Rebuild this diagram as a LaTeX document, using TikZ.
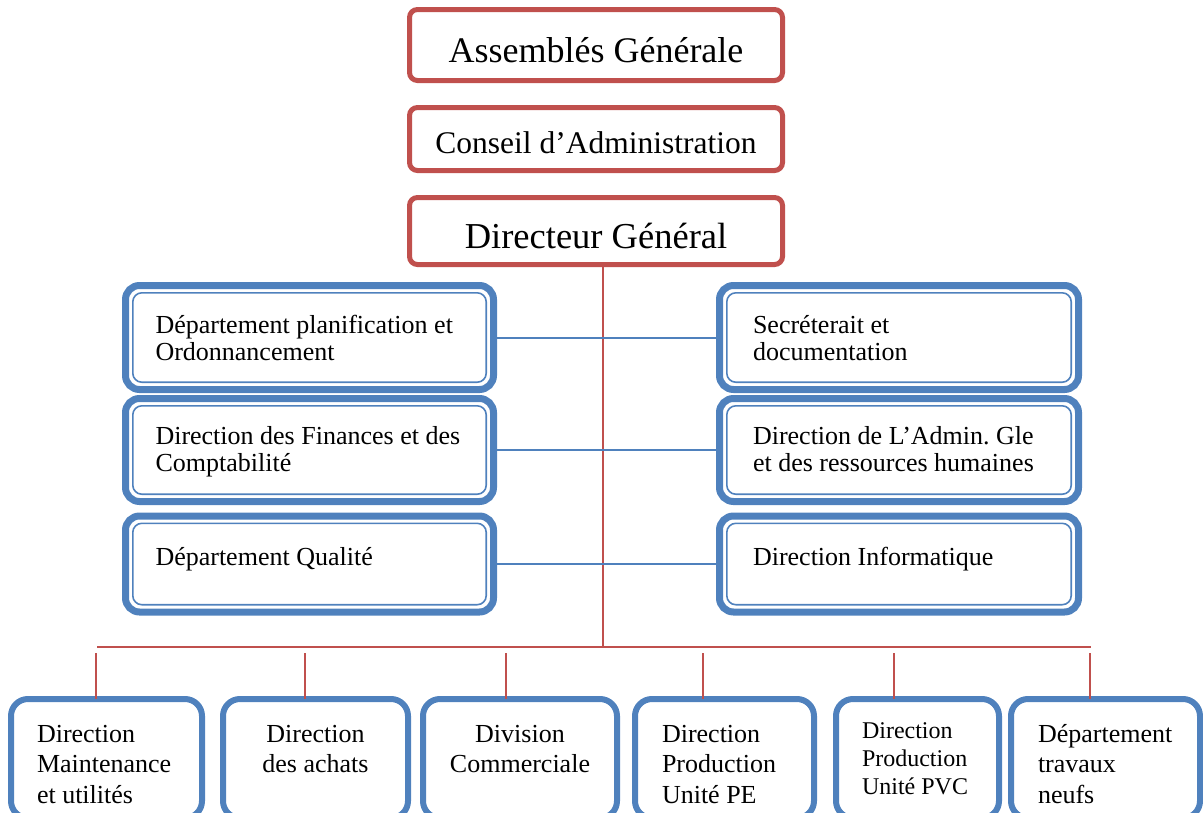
\documentclass[tikz,border=0pt]{standalone}
\usepackage{fontspec}
\setmainfont{Liberation Serif}
\definecolor{orgblue}{HTML}{4F81BD}
\definecolor{orgred}{HTML}{C0504D}
\tikzset{
	redbox/.style={draw=orgred, line width=5pt, rounded corners=8pt, minimum width=373pt, inner ysep=0pt, outer sep=0pt, anchor=north},
	unitbox/.style={draw=orgblue, line width=7pt, rounded corners=14pt, inner ysep=0pt, outer sep=0pt, align=flush left, anchor=north west, font=\fontsize{26}{27}\selectfont},
	leftcol/.style={unitbox, inner xsep=30pt, text width=308pt},
	rightcol/.style={unitbox, inner xsep=33.5pt, text width=292pt},
	basebox/.style={draw=orgblue, line width=6pt, rounded corners=17pt, inner ysep=0pt, outer sep=0pt, text height=43pt, text depth=76pt, anchor=north west, align=flush left, font=\fontsize{26}{30.5}\selectfont},
	redline/.style={draw=orgred, line width=2.5pt},
	blueline/.style={draw=orgblue, line width=2pt}
}
\begin{document}
\begin{tikzpicture}[x=1pt, y=-1pt]
			\useasboundingbox (0, 0) rectangle (1203, 812);
			\node[redbox, text height=52.5pt, text depth=18.5pt, font=\fontsize{36}{40}\selectfont] (ag) at (596, 9.5) {Assemblés Générale};
			\node[redbox, text height=45.5pt, text depth=17.5pt, font=\fontsize{31.5}{35}\selectfont] (ca) at (596, 107.5) {Conseil d’Administration};
			\node[redbox, text height=50.5pt, text depth=16.5pt, font=\fontsize{36.5}{40}\selectfont] (dg) at (596, 197.5) {Directeur Général};
			% staff units
			\node[leftcol, text height=47.5pt, text depth=56.5pt] (l1) at (125.5, 285.5) {Département~planification~et\\Ordonnancement};
			\node[leftcol, text height=45.5pt, text depth=57.5pt] (l2) at (125.5, 398.5) {Direction~des~Finances~et~des\\Comptabilité};
			\node[leftcol, text height=49pt, text depth=47pt] (l3) at (125.5, 516) {Département~Qualité};
			\node[rightcol, text height=47.5pt, text depth=56.5pt] (r1) at (719.5, 285.5) {Secréterait~et\\documentation};
			\node[rightcol, text height=45.5pt, text depth=57.5pt] (r2) at (719.5, 398.5) {Direction~de~L’Admin.~Gle\\et~des~ressources~humaines};
			\node[rightcol, text height=49pt, text depth=47pt] (r3) at (719.5, 516) {Direction~Informatique};
			\foreach \n in {l1, l2, l3, r1, r2, r3}
				\draw[orgblue, line width=1.6pt, rounded corners=9pt] ([shift={(7.3pt, -7.3pt)}]\n.north west) rectangle ([shift={(-7.3pt, 7.3pt)}]\n.south east);
			% operating units
			\node[basebox, inner xsep=26pt, text width=139pt] (m1) at (11, 699) {Direction\\Maintenance\\et~utilités};
			\node[basebox, inner xsep=10pt, text width=165pt, align=flush center] (m2) at (223, 699) {Direction\\des~achats};
			\node[basebox, inner xsep=10pt, text width=174pt, align=flush center] (m3) at (423, 699) {Division\\Commerciale};
			\node[basebox, inner xsep=27pt, text width=125pt] (m4) at (635, 699) {Direction\\Production\\Unité~PE};
			\node[basebox, inner xsep=26pt, text width=111pt, text height=39pt, text depth=80pt, font=\fontsize{24}{28}\selectfont] (m5) at (836, 699) {Direction\\Production\\Unité~PVC};
			\node[basebox, inner xsep=27pt, text width=135pt] (m6) at (1011, 699) {Département\\travaux\\neufs};
			\coordinate (trunk) at (603, 647);
			\coordinate (busL) at (97, 647);
			\coordinate (busR) at (1091, 647);
			\coordinate (d1) at (96, 653);
			\coordinate (d2) at (305, 653);
			\coordinate (d3) at (506, 653);
			\coordinate (d4) at (703, 653);
			\coordinate (d5) at (894, 653);
			\coordinate (d6) at (1090, 653);
			\draw[redline] (trunk |- dg.south) -- (trunk);
			\draw[redline] (busL) -- (busR);
			\foreach \n in {1, ..., 6}
				\draw[redline] (d\n) -- (d\n |- m\n.north);
			\foreach \n in {1, 2, 3}
				\draw[blueline] (l\n.east) -- (l\n.east -| r\n.west);
		\end{tikzpicture}
\end{document}
